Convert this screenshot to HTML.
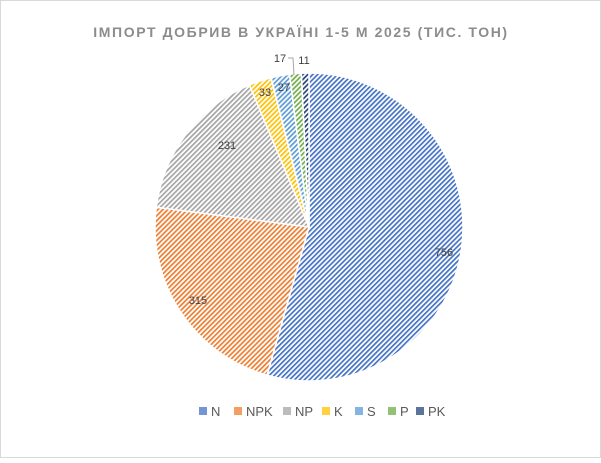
<!DOCTYPE html>
<html><head><meta charset="utf-8"><style>
html,body{margin:0;padding:0;background:#fff}
body{width:601px;height:458px;overflow:hidden;font-family:"Liberation Sans",sans-serif}
</style></head><body>
<svg id="s" width="601" height="458" xmlns="http://www.w3.org/2000/svg">
<rect x="0.5" y="0.5" width="600" height="457" fill="#fff" stroke="#d9d9d9"/>
<defs></defs>
<g id="pie"></g>
<text x="301" y="37" text-anchor="middle" font-size="14" font-weight="bold" fill="#8c8c8c" letter-spacing="1.6">ІМПОРТ ДОБРИВ В УКРАЇНІ 1-5 М 2025 (ТИС. ТОН)</text>
<g font-size="11" fill="#404040">
<text x="444" y="256" text-anchor="middle">756</text>
<text x="198" y="304" text-anchor="middle">315</text>
<text x="227" y="149" text-anchor="middle">231</text>
<text x="265" y="96" text-anchor="middle">33</text>
<text x="284" y="91" text-anchor="middle">27</text>
<text x="280" y="62" text-anchor="middle">17</text>
<text x="304" y="64" text-anchor="middle">11</text>
</g>
<polyline points="288,58 293,58 294,75" fill="none" stroke="#a6a6a6" stroke-width="1"/>
<g id="leg" font-size="13" fill="#595959"></g>
</svg>
<script>
var cols=["#4472c4","#ed7d31","#a5a5a5","#ffc000","#5b9bd5","#70ad47","#264478"];
var vals=[756,315,231,33,27,17,11],names=["N","NPK","NP","K","S","P","PK"];
var ns="http://www.w3.org/2000/svg",defs=document.querySelector("defs");
cols.forEach(function(c,i){
 var p=document.createElementNS(ns,"pattern");
 p.setAttribute("id","p"+i);p.setAttribute("width","3.5");p.setAttribute("height","3.5");
 p.setAttribute("patternUnits","userSpaceOnUse");p.setAttribute("patternTransform","rotate(45)");
 p.innerHTML='<rect width="3.5" height="3.5" fill="#fff"/><rect width="1.7" height="3.5" fill="'+c+'"/>';
 defs.appendChild(p);
});
var cx=309,cy=227,r=154,t=vals.reduce(function(a,b){return a+b}),a=0,g=document.getElementById("pie");
vals.forEach(function(v,i){
 var a1=a+v/t*2*Math.PI;
 var x0=cx+r*Math.sin(a),y0=cy-r*Math.cos(a),x1=cx+r*Math.sin(a1),y1=cy-r*Math.cos(a1);
 var path=document.createElementNS(ns,"path");
 path.setAttribute("d","M"+cx+","+cy+"L"+x0+","+y0+"A"+r+","+r+" 0 "+((a1-a)>Math.PI?1:0)+" 1 "+x1+","+y1+"Z");
 path.setAttribute("fill","url(#p"+i+")");path.setAttribute("stroke","#fff");path.setAttribute("stroke-width","1.5");
 g.appendChild(path);a=a1;
});
var lg=document.getElementById("leg"),xs=[199,234,283,322,355,388,416];
names.forEach(function(n,i){
 lg.innerHTML+='<rect x="'+xs[i]+'" y="407" width="8" height="8" fill="'+cols[i]+'" opacity="0.75"/><text x="'+(xs[i]+12)+'" y="416">'+n+'</text>';
});
</script>
</body></html>
